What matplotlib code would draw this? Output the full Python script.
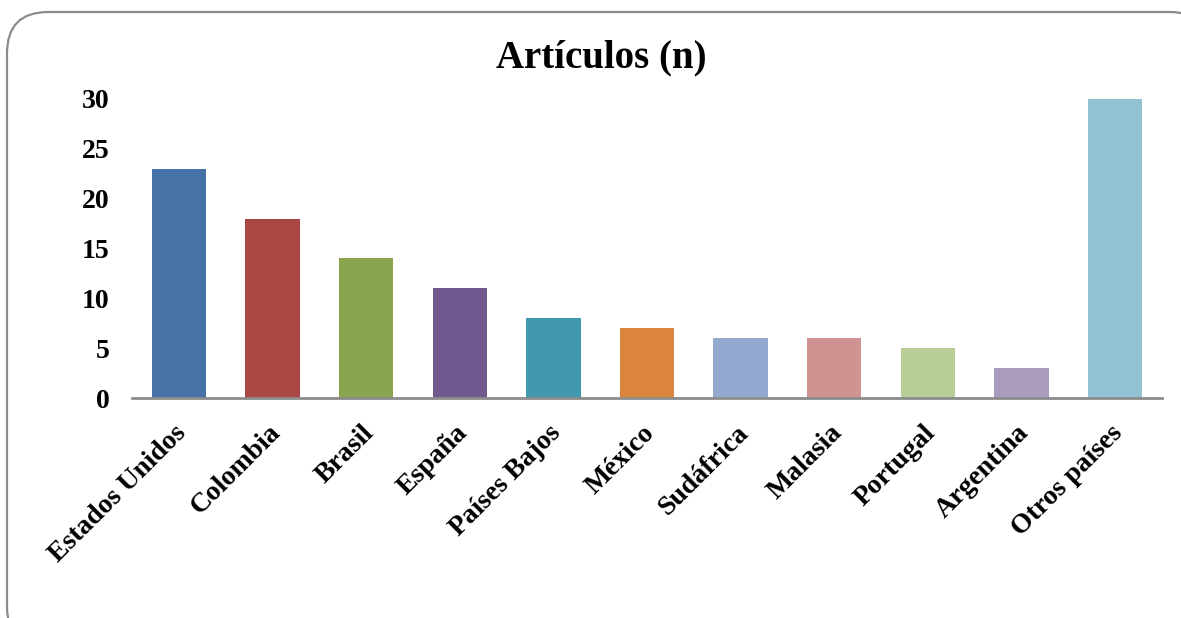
import matplotlib
matplotlib.use("Agg")
import matplotlib.pyplot as plt
from matplotlib.patches import FancyBboxPatch
from matplotlib.transforms import ScaledTranslation

# data
paises = ["Estados Unidos", "Colombia", "Brasil", "España", "Países Bajos",
          "México", "Sudáfrica", "Malasia", "Portugal", "Argentina", "Otros países"]
articulos = [23, 18, 14, 11, 8, 7, 6, 6, 5, 3, 30]
colores = ["#4572A7", "#AA4643", "#89A54E", "#71588F", "#4198AF", "#DB843D",
           "#93A9CF", "#D19392", "#B9CD96", "#A99BBD", "#92C3D4"]
y_ticks = [0, 5, 10, 15, 20, 25, 30]

plt.rcParams["font.family"] = ["Liberation Serif", "DejaVu Serif"]
plt.rcParams["font.weight"] = "bold"

W, H = 1181, 618
fig = plt.figure(figsize=(W / 100, H / 100), dpi=100)

# rounded frame around the chart (runs off the right and bottom edges)
frame = FancyBboxPatch((7 / W, -30 / H), (W + 30 - 7) / W, (H - 12 + 30) / H,
                       boxstyle="round,pad=0,rounding_size=0.035",
                       transform=fig.transFigure, facecolor="white",
                       edgecolor="#8c8c8c", linewidth=1.6, mutation_aspect=W / H,
                       zorder=-5)
fig.patches.append(frame)

ax = fig.add_axes([132 / W, (H - 398) / H, (1162 - 132) / W, (398 - 99) / H])
ax.set_facecolor("none")
ax.set_zorder(5)

x = range(len(paises))
ax.bar(x, articulos, width=0.58, color=colores)

ax.set_xlim(-0.5, len(paises) - 0.5)
ax.set_ylim(0, 30)
ax.set_yticks(y_ticks)
ax.set_yticklabels([str(t) for t in y_ticks], fontsize=20, fontweight="bold")
ax.set_xticks(list(x))
ax.set_xticklabels(paises, rotation=45, ha="right", rotation_mode="anchor",
                   fontsize=20, fontweight="bold")
ax.tick_params(axis="both", length=0)
ax.tick_params(axis="y", pad=16)
ax.tick_params(axis="x", pad=16)

# nudge the slanted labels a little to the left
shift = ScaledTranslation(-0.05, 0, fig.dpi_scale_trans)
for lab in ax.get_xticklabels():
    lab.set_transform(lab.get_transform() + shift)

for side in ["left", "right", "top"]:
    ax.spines[side].set_visible(False)
ax.spines["bottom"].set_color("#8c8c8c")
ax.spines["bottom"].set_linewidth(2)

fig.text(601 / W, 1 - 58 / H, "Artículos (n)", ha="center", va="center",
         fontsize=28, fontweight="bold", zorder=10)

fig.savefig("out.png", dpi=100)
